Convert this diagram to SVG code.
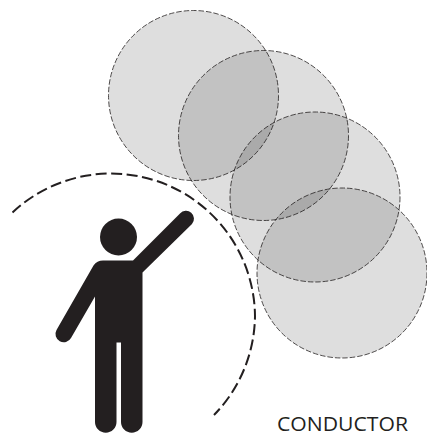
<svg xmlns="http://www.w3.org/2000/svg" width="427" height="436" viewBox="0 0 427 436">
<style>
.zone{fill:#231f20;fill-opacity:.15;stroke:#231f20;stroke-width:.8;stroke-dasharray:5.500 2}
.reach{fill:none;stroke:#231f20;stroke-width:2;stroke-dasharray:11 4.500}
.person{fill:#231f20}
text{font-family:"Open Sans","Liberation Sans",sans-serif;font-size:20.500px;fill:#231f20}
</style>
<rect width="427" height="436" fill="#fff"/>
<g id="zones">
<circle id="zone1" class="zone" cx="193.500" cy="95.500" r="85"/>
<circle id="zone2" class="zone" cx="263.500" cy="135.500" r="85"/>
<circle id="zone3" class="zone" cx="315" cy="197" r="85"/>
<circle id="zone4" class="zone" cx="342" cy="273" r="85"/>
</g>
<g id="connectors">
<path id="reach" class="reach" d="M12.500 212.500A144 144 0 0 1 255 316A144 144 0 0 1 214 415"/>
</g>
<g id="person">
<circle class="person" cx="118.500" cy="237" r="18.500"/>
<path class="person" d="M103 260.500H133L180 213.500A7.500 7.500 0 0 1 192 224L142.500 272.500V422A10.500 10.500 0 0 1 121 422V342.500H116.500V422A10.500 10.500 0 0 1 95 422V296.500L71 338A7.800 7.800 0 0 1 56.500 330L93.500 265.500Q97 260.500 103 260.500Z"/>
</g>
<text id="label" x="277" y="430.500" textLength="131" lengthAdjust="spacingAndGlyphs">CONDUCTOR</text>
</svg>
